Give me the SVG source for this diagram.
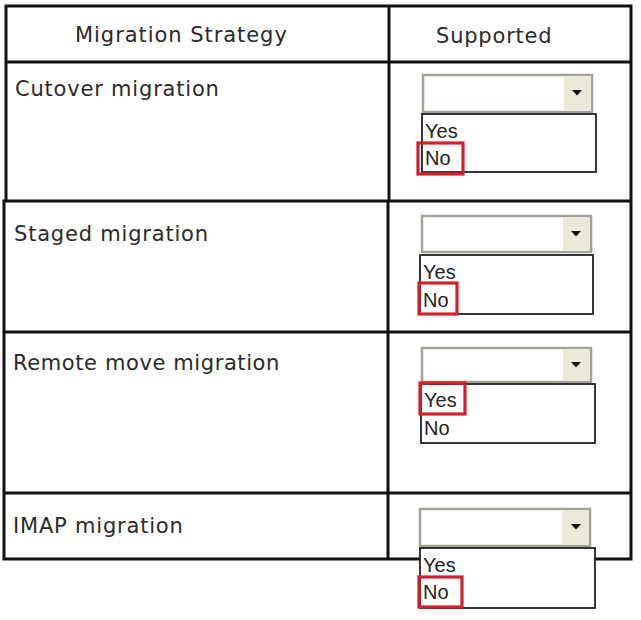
<svg xmlns="http://www.w3.org/2000/svg" width="641" height="620" viewBox="0 0 641 620">
<style>
.grid{stroke:#111;stroke-width:3;fill:none;stroke-linecap:square}
.lbl{font-family:"DejaVu Sans",Verdana,sans-serif;font-size:21px;letter-spacing:0.8px;fill:#2a2a2a}
.sel{fill:#fff;stroke:#a3a297;stroke-width:2.5}
.btn{fill:#ece9d8}
.arr{fill:#111}
.lst{fill:#fff;stroke:#222;stroke-width:1.8}
.opt{font-family:"Liberation Sans",Arial,sans-serif;font-size:20px;fill:#222}
.hit{fill:none;stroke:#d3202c;stroke-width:3.2}
</style>
<rect width="641" height="620" fill="#fff"/>
<g id="table">
<path class="grid" d="M6 6H631M6 62H631M4 201H631M4 332H631M4 493H631M4 559H631M6 6V201M4 201V559M389 6V201M388 201V559M631 6V559"/>
</g>
<g id="headers">
<text class="lbl" x="75" y="42" style="letter-spacing:0.95px">Migration Strategy</text>
<text class="lbl" x="436" y="43">Supported</text>
</g>
<g id="row-cutover">
<text class="lbl" x="15" y="96">Cutover migration</text>
<rect class="sel" x="423" y="75" width="169" height="37"/>
<rect class="btn" x="564" y="77" width="27" height="33"/>
<path class="arr" d="M572 90h10l-5 5.5z"/>
<rect class="lst" x="422" y="114" width="174" height="58"/>
<text class="opt" x="425" y="138">Yes</text>
<text class="opt" x="425" y="165">No</text>
<rect class="hit" x="418" y="143" width="45" height="31"/>
</g>
<g id="row-staged">
<text class="lbl" x="14" y="241">Staged migration</text>
<rect class="sel" x="422" y="216" width="169" height="36"/>
<rect class="btn" x="563" y="218" width="27" height="32"/>
<path class="arr" d="M571 231h10l-5 5.5z"/>
<rect class="lst" x="420" y="255" width="173" height="59"/>
<text class="opt" x="423" y="279">Yes</text>
<text class="opt" x="423" y="307">No</text>
<rect class="hit" x="419" y="283" width="38" height="31"/>
</g>
<g id="row-remote">
<text class="lbl" x="13" y="370" style="letter-spacing:0.6px">Remote move migration</text>
<rect class="sel" x="422" y="348" width="169" height="34"/>
<rect class="btn" x="563" y="350" width="27" height="30"/>
<path class="arr" d="M571 362h10l-5 5.5z"/>
<rect class="lst" x="421" y="384" width="174" height="59"/>
<text class="opt" x="424" y="407">Yes</text>
<text class="opt" x="424" y="435">No</text>
<rect class="hit" x="420" y="383" width="45" height="31"/>
</g>
<g id="row-imap">
<text class="lbl" x="13" y="533">IMAP migration</text>
<rect class="sel" x="420" y="509" width="170" height="37"/>
<rect class="btn" x="562" y="511" width="27" height="33"/>
<path class="arr" d="M571 524h10l-5 5.5z"/>
<rect class="lst" x="420" y="548" width="175" height="60"/>
<text class="opt" x="423" y="572">Yes</text>
<text class="opt" x="423" y="599">No</text>
<rect class="hit" x="419" y="577" width="43" height="30"/>
</g>
</svg>
